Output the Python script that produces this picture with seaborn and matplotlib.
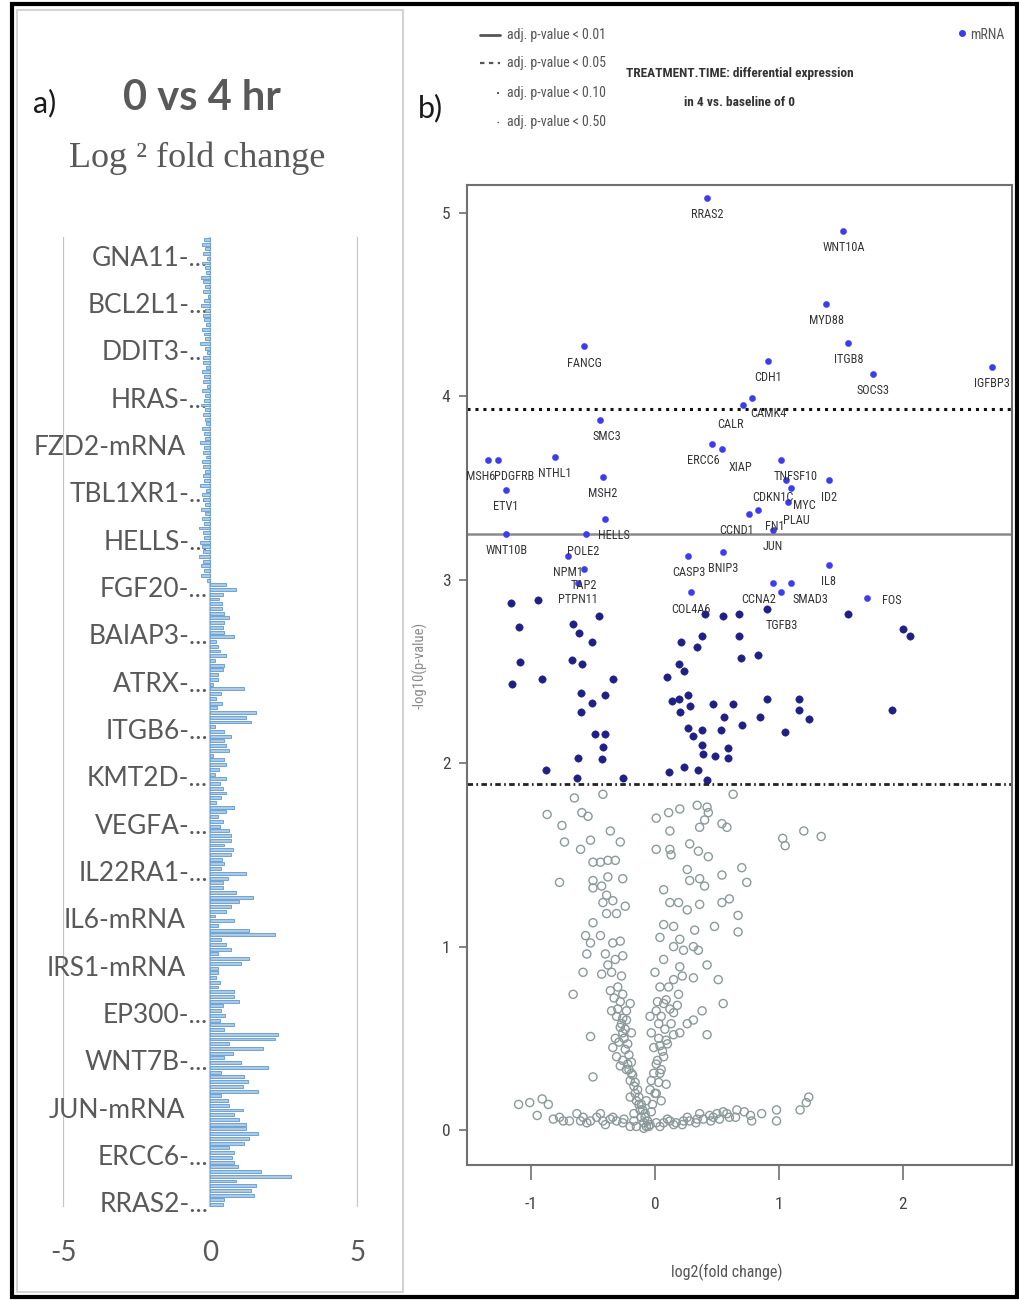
import numpy as np
import pandas as pd
import matplotlib
matplotlib.use("Agg")
import matplotlib.pyplot as plt
import seaborn as sns
from matplotlib import font_manager
from matplotlib.lines import Line2D
from matplotlib.patches import Rectangle

# ---------------- panel a: per-gene log2 fold change (0 vs 4 hr) ----------------
bar_labels = ["GNA11-...", "BCL2L1-...", "DDIT3-...", "HRAS-...", "FZD2-mRNA",
              "TBL1XR1-...", "HELLS-...", "FGF20-...", "BAIAP3-...", "ATRX-...",
              "ITGB6-...", "KMT2D-...", "VEGFA-...", "IL22RA1-...", "IL6-mRNA",
              "IRS1-mRNA", "EP300-...", "WNT7B-...", "JUN-mRNA", "ERCC6-...",
              "RRAS2-..."]
first_labelled_row = 4
label_every = 10

neg_fold = [-0.22, -0.30, -0.18, -0.25, -0.12, -0.28, -0.20, -0.15, -0.33, -0.24,
            -0.19, -0.27, -0.10, -0.22, -0.31, -0.17, -0.26, -0.21, -0.14, -0.29,
            -0.23, -0.18, -0.35, -0.20, -0.12, -0.27, -0.24, -0.16, -0.30, -0.21,
            -0.25, -0.13, -0.28, -0.19, -0.22, -0.32, -0.17, -0.26, -0.20, -0.15,
            -0.29, -0.23, -0.18, -0.34, -0.21, -0.26, -0.14, -0.30, -0.24, -0.19,
            -0.27, -0.22, -0.36, -0.16, -0.28, -0.25, -0.20, -0.33, -0.18, -0.29,
            -0.23, -0.38, -0.26, -0.21, -0.35, -0.30, -0.24, -0.40, -0.27, -0.33,
            -0.22, -0.31, -0.12]
pos_fold_upper = [0.53, 0.87, 0.42, 0.30, 0.38, 0.38, 0.47, 0.64, 0.45, 0.42,
                  0.47, 0.81, 0.19, 0.25, 0.33, 0.53, 0.16, 0.47, 0.42, 0.27,
                  0.25, 0.08, 1.15, 0.36, 0.19, 0.38, 0.22, 1.55, 1.21, 1.38,
                  0.14, 0.47, 0.70, 0.47, 0.53, 0.64, 0.08, 0.45, 0.53, 0.28,
                  0.14, 0.53, 0.31, 0.42, 0.53, 0.36, 0.20, 0.81, 0.53, 0.25,
                  0.42, 0.31, 0.64, 0.70, 0.70, 0.47, 0.76, 0.68, 0.40, 0.47,
                  0.36, 1.21, 0.59, 0.42, 0.42, 0.87, 1.43]
pos_fold_lower = [0.98, 0.70, 0.53, 0.14, 0.81, 0.27, 1.32, 2.17, 0.36, 0.53,
                  0.70, 0.25, 1.32, 1.04, 0.25, 0.25, 0.19, 0.31, 0.25, 0.81,
                  0.81, 0.98, 0.42, 0.36, 0.50, 0.31, 0.81, 0.47, 2.28, 2.17,
                  0.64, 1.77, 0.76, 0.47, 1.04, 1.94, 0.36, 1.15, 1.27, 1.10,
                  1.60, 0.36, 0.58, 0.64, 1.10, 0.81, 0.98, 1.21, 1.21, 1.60,
                  1.32, 1.15, 0.64, 0.81, 0.72, 0.81, 0.93, 1.72, 2.73, 0.87,
                  1.55, 1.38, 1.49, 0.45, 0.42]
fold_change = neg_fold + pos_fold_upper + pos_fold_lower

# ---------------- panel b: volcano plot ----------------
named_genes = ["RRAS2", "WNT10A", "MYD88", "ITGB8", "FANCG", "CDH1", "SOCS3", "IGFBP3",
               "CALR", "CAMK4", "SMC3", "ERCC6", "XIAP", "NTHL1", "MSH6", "PDGFRB",
               "ETV1", "MSH2", "HELLS", "WNT10B", "POLE2", "NPM1", "TAP2", "PTPN11",
               "TNFSF10", "CDKN1C", "MYC", "ID2", "PLAU", "CCND1", "FN1", "JUN",
               "CASP3", "BNIP3", "IL8", "CCNA2", "TGFB3", "SMAD3", "COL4A6", "FOS"]
named_lfc = [0.42, 1.52, 1.38, 1.56, -0.57, 0.91, 1.76, 2.72,
             0.71, 0.78, -0.44, 0.46, 0.54, -0.81, -1.35, -1.27,
             -1.20, -0.42, -0.40, -1.20, -0.56, -0.70, -0.57, -0.62,
             1.02, 1.06, 1.10, 1.40, 1.07, 0.76, 0.83, 0.95,
             0.27, 0.55, 1.40, 0.95, 1.02, 1.10, 0.29, 1.71]
named_logp = [5.08, 4.90, 4.50, 4.29, 4.27, 4.19, 4.12, 4.16,
              3.95, 3.99, 3.87, 3.74, 3.71, 3.67, 3.65, 3.65,
              3.49, 3.56, 3.33, 3.25, 3.25, 3.13, 3.06, 2.98,
              3.65, 3.54, 3.50, 3.54, 3.42, 3.36, 3.38, 3.27,
              3.13, 3.15, 3.08, 2.98, 2.93, 2.98, 2.93, 2.90]

sig_lfc = [-1.16, -0.94, -1.10, -1.09, -1.15, -0.91, -0.66, -0.61, -0.51, -0.45,
           -0.67, -0.59, -0.34, -0.60, -0.60, -0.51, -0.40, -0.48, -0.40, -0.42,
           -0.43, -0.62, -0.88, -0.63, -0.26, 0.10, 0.19, 0.23, 0.21, 0.14,
           0.19, 0.20, 0.27, 0.28, 0.27, 0.31, 0.38, 0.38, 0.39, 0.48,
           0.23, 0.35, 0.11, 0.42, 0.34, 0.38, 0.40, 0.55, 0.68, 0.68,
           0.69, 0.83, 0.47, 0.63, 0.56, 0.53, 0.70, 0.59, 0.59, 0.90,
           0.90, 0.85, 1.05, 1.16, 1.16, 1.24, 1.91, 2.00, 2.06, 1.56]
sig_logp = [2.87, 2.89, 2.74, 2.55, 2.43, 2.46, 2.76, 2.71, 2.66, 2.80,
            2.56, 2.54, 2.46, 2.38, 2.28, 2.33, 2.37, 2.16, 2.16, 2.09,
            2.02, 2.03, 1.96, 1.92, 1.92, 2.47, 2.54, 2.50, 2.66, 2.34,
            2.35, 2.28, 2.37, 2.31, 2.19, 2.15, 2.18, 2.10, 2.05, 2.04,
            1.98, 1.96, 1.95, 1.91, 2.63, 2.69, 2.81, 2.80, 2.81, 2.69,
            2.57, 2.59, 2.32, 2.32, 2.25, 2.18, 2.21, 2.08, 2.03, 2.84,
            2.35, 2.25, 2.17, 2.35, 2.29, 2.24, 2.29, 2.73, 2.69, 2.81]

ns_lfc = [-0.87, -0.75, -0.73, -0.65, -0.59, -0.54, -0.60, -0.52, -0.42, -0.36,
          -0.28, -0.50, -0.44, -0.38, -0.32, -0.77, -0.50, -0.50, -0.43, -0.39,
          -0.38, -0.26, -0.42, -0.34, -0.31, -0.24, -0.39, -0.50, -0.44, -0.56,
          -0.52, -0.55, -0.34, -0.28, -0.26, -0.40, -0.38, -0.58, -0.43, -0.35,
          -0.27, -0.66, -0.36, -0.26, -0.28, -0.20, -0.31, -0.26, -0.28, -0.23,
          -0.19, -0.52, -0.32, -0.31, -0.26, -0.23, -0.20, -0.17, -0.50, -0.15,
          -0.12, -0.09, -0.24, -0.22, -0.28, -0.19, -0.16, -0.20, -0.13, -0.17,
          -0.11, -0.32, -0.30, -0.35, -0.23, -0.26, -0.34,
          -0.30, -0.27, -0.25, -0.22, -0.21, -0.19, -0.18, -0.16, -0.14, -0.13,
          -0.11, -0.10, -0.08, -0.06, -0.24, -0.29, -0.33, -0.21,
          0.01, 0.11, 0.20, 0.12, 0.01, 0.12, 0.13, 0.28, 0.34, 0.42,
          0.43, 0.40, 0.36, 0.54, 0.58, 0.63, 0.35, 0.43, 0.26, 0.28,
          0.36, 0.40, 0.54, 0.70, 0.74, 0.07, 0.12, 0.19, 0.26, 0.36,
          0.54, 0.60, 0.67, 0.67, 0.48, 0.32, 0.15, 0.07, 0.04, 0.20,
          0.23, 0.35, 0.42, 0.07, 0.00, 0.15, 0.22, 0.31, 0.51, 0.55,
          0.38, 0.26, 0.15, 0.07, 0.01, -0.04, 0.03, 0.15, 0.42, -0.03,
          -0.01, 0.04, 0.07, 0.01, 0.09, -0.01, -0.04, -0.07, -0.08, 0.04,
          -0.03, 0.01, 0.05, 0.11, 0.19, 0.31, 0.20, 0.09, 0.04, 0.31,
          0.15, 0.20,
          0.02, 0.05, 0.08, 0.03, 0.06, 0.02, 0.05, 0.03, 0.00, -0.02,
          -0.03, 0.10, 0.12, 0.09, 0.13, 0.18,
          1.03, 1.20, 1.34, 1.05,
          -1.01, -0.91, -0.86, -0.82, -0.74, -0.69, -0.63, -0.58, -0.52, -0.47,
          -0.42, -0.36, -0.31, -0.26, -0.20, -0.15, -0.09, -0.04, 0.01, 0.07,
          0.12, 0.17, 0.23, 0.28, 0.34, 0.39, 0.44, 0.50, 0.55, 0.60,
          0.66, 0.77, 0.78, 0.98, 0.98, 1.17, 1.22, 1.24, -0.77, -0.60,
          -0.44, -0.34, -0.17, -0.07, 0.04, 0.15, 0.26, 0.36, 0.47, 0.58,
          -0.95, -0.55, -0.40, -0.25, -0.05, 0.10, 0.22, 0.33, 0.45, 0.52,
          0.65, 0.72, 0.86, -1.10]
ns_logp = [1.72, 1.66, 1.57, 1.81, 1.73, 1.71, 1.53, 1.58, 1.83, 1.63,
           1.57, 1.46, 1.46, 1.47, 1.47, 1.35, 1.36, 1.32, 1.33, 1.28,
           1.38, 1.37, 1.24, 1.25, 1.18, 1.22, 1.18, 1.13, 1.06, 1.06,
           1.02, 0.96, 1.02, 1.03, 0.95, 0.96, 0.90, 0.86, 0.85, 0.86,
           0.84, 0.74, 0.76, 0.74, 0.70, 0.69, 0.62, 0.61, 0.56, 0.60,
           0.53, 0.51, 0.50, 0.40, 0.38, 0.33, 0.27, 0.24, 0.29, 0.16,
           0.11, 0.04, 0.44, 0.36, 0.35, 0.31, 0.20, 0.18, 0.14, 0.09,
           0.07, 0.93, 0.78, 0.65, 0.65, 0.53, 0.45,
           0.66, 0.58, 0.50, 0.47, 0.41, 0.37, 0.30, 0.26, 0.22, 0.18,
           0.14, 0.11, 0.07, 0.05, 0.55, 0.48, 0.72, 0.33,
           1.70, 1.73, 1.75, 1.63, 1.53, 1.53, 1.50, 1.56, 1.77, 1.76,
           1.73, 1.69, 1.65, 1.67, 1.65, 1.83, 1.52, 1.49, 1.42, 1.36,
           1.37, 1.33, 1.39, 1.43, 1.35, 1.31, 1.24, 1.24, 1.20, 1.23,
           1.24, 1.26, 1.17, 1.08, 1.11, 1.09, 1.11, 1.12, 1.05, 1.04,
           0.98, 0.98, 0.90, 0.93, 0.86, 0.82, 0.84, 0.83, 0.82, 0.69,
           0.65, 0.58, 0.64, 0.69, 0.65, 0.62, 0.58, 0.52, 0.52, 0.53,
           0.45, 0.46, 0.40, 0.36, 0.25, 0.31, 0.22, 0.16, 0.09, 0.31,
           0.27, 0.20, 0.16, 0.78, 0.74, 0.60, 0.53, 0.49, 0.78, 1.00,
           1.00, 0.89,
           0.70, 0.62, 0.55, 0.50, 0.43, 0.38, 0.33, 0.26, 0.20, 0.14,
           0.10, 0.47, 0.66, 0.71, 0.58, 0.68,
           1.59, 1.63, 1.60, 1.55,
           0.15, 0.17, 0.14, 0.06, 0.05, 0.05, 0.09, 0.07, 0.05, 0.07,
           0.05, 0.06, 0.05, 0.04, 0.02, 0.02, 0.01, 0.03, 0.04, 0.04,
           0.05, 0.04, 0.05, 0.05, 0.06, 0.06, 0.08, 0.09, 0.10, 0.07,
           0.11, 0.08, 0.05, 0.11, 0.05, 0.11, 0.15, 0.18, 0.07, 0.05,
           0.09, 0.07, 0.05, 0.02, 0.02, 0.03, 0.07, 0.09, 0.07, 0.09,
           0.08, 0.04, 0.03, 0.06, 0.02, 0.06, 0.03, 0.04, 0.05, 0.06,
           0.07, 0.10, 0.09, 0.14]

cutoffs = [3.93, 3.25, 1.885]
legend_entries = ["adj. p-value < 0.01", "adj. p-value < 0.05",
                  "adj. p-value < 0.10", "adj. p-value < 0.50"]

# ---------------- fonts ----------------
available = {f.name for f in font_manager.fontManager.ttflist}


def pick(*names):
    for n in names:
        if n in available:
            return n
    return "DejaVu Sans"


NARROW = pick("Liberation Sans Narrow", "Roboto Condensed", "Liberation Sans")
OFFICE = pick("Lato", "Open Sans")
SERIF = pick("Liberation Serif", "DejaVu Serif")

sns.set_theme(style="white")
plt.rcParams["font.family"] = [OFFICE, "DejaVu Sans"]
plt.rcParams["axes.unicode_minus"] = False

W, H = 1020, 1300
fig = plt.figure(figsize=(W / 100, H / 100), dpi=100)


def fx(px):
    return px / W


def fy(py):
    return 1 - py / H


# ---------------- panel a ----------------
ax_a = fig.add_axes([fx(63), fy(1207), fx(358) - fx(63), fy(237) - fy(1207)])
rows = np.arange(len(fold_change))
df_a = pd.DataFrame({"row": rows, "lfc": fold_change})
sns.barplot(data=df_a, x="lfc", y="row", orient="y", native_scale=True,
            color="#a8c9ea", edgecolor="#5b9bd5", linewidth=0.6, width=0.62,
            errorbar=None, ax=ax_a, zorder=3)
ax_a.set_xlim(-5, 5)
ax_a.set_ylim(len(fold_change) - 0.5, -0.5)
ax_a.set_xticks([-5, 0, 5])
ax_a.set_xticklabels(["-5", "0", "5"])
ax_a.set_yticks([])
for s in ax_a.spines.values():
    s.set_visible(False)
ax_a.grid(axis="x", color="#c4c4c4", linewidth=1.6, zorder=0)
ax_a.grid(axis="y", visible=False)
ax_a.tick_params(axis="x", length=0, pad=24, labelsize=20, labelcolor="#595959")
ax_a.set_xlabel("")
ax_a.set_ylabel("")

# category labels sit against the zero line; truncated names run a little further right
tick_rows = [first_labelled_row + label_every * k for k in range(len(bar_labels))]
for r, lab in zip(tick_rows, bar_labels):
    right_edge = -0.08 if lab.endswith("...") else -0.85
    ax_a.text(right_edge, r, lab, ha="right", va="center", fontsize=19,
              color="#595959", zorder=2)

fig.text(fx(45), fy(103), "a)", fontsize=22, color="#1a1a1a", ha="center", va="center")
fig.text(fx(202), fy(98), "0 vs 4 hr", fontsize=30, fontweight="bold", color="#595959",
         ha="center", va="center")
fig.text(fx(197), fy(158), "Log \u00b2 fold change", fontsize=26, family=SERIF,
         color="#595959", ha="center", va="center")

# ---------------- panel b ----------------
ax_b = fig.add_axes([fx(467), fy(1165), fx(1012) - fx(467), fy(185) - fy(1165)])
ax_b.set_xlim(-1.516, 2.879)
ax_b.set_ylim(-0.19, 5.15)

sns.scatterplot(x=ns_lfc, y=ns_logp, ax=ax_b, marker="o", s=34, facecolor="none",
                edgecolor="#8c9a9a", linewidth=1.0, legend=False, zorder=2)
sns.scatterplot(x=sig_lfc, y=sig_logp, ax=ax_b, marker="o", s=28, color="#1f1f86",
                edgecolor="#1f1f86", linewidth=0.4, legend=False, zorder=3)
sns.scatterplot(x=named_lfc, y=named_logp, ax=ax_b, marker="o", s=20, color="#3b3bef",
                edgecolor="#3b3bef", linewidth=0.3, legend=False, zorder=4)

ax_b.axhline(cutoffs[0], color="#111111", linewidth=2.2, linestyle=(0, (1.0, 1.6)), zorder=1)
ax_b.axhline(cutoffs[1], color="#8a8a8a", linewidth=1.8, linestyle="-", zorder=1)
ax_b.axhline(cutoffs[2], color="#222222", linewidth=2.0, linestyle=(0, (2.0, 1.2, 0.6, 1.2)),
             zorder=1)

# offsets (points) that keep crowded gene names apart
label_shift = {"FOS": (18, -2), "SMC3": (5, -12), "TNFSF10": (10, -12),
               "MSH6": (-5, -12), "PDGFRB": (12, -12),
               "ERCC6": (-6, -12), "XIAP": (13, -13),
               "CALR": (-9, -14), "CAMK4": (12, -11),
               "CCND1": (-9, -12), "FN1": (12, -12),
               "CCNA2": (-10, -12), "TGFB3": (0, -24), "SMAD3": (14, -12),
               "CDKN1C": (-10, -12), "MYC": (9, -13), "PLAU": (6, -13),
               "HELLS": (6, -12), "POLE2": (-2, -13)}
for g, x, y in zip(named_genes, named_lfc, named_logp):
    dx, dy = label_shift.get(g, (0, -12))
    ax_b.annotate(g, (x, y), xytext=(dx, dy), textcoords="offset points",
                  ha="center", va="center", fontsize=8.8, family=NARROW,
                  color="#333333", zorder=5)

for s in ax_b.spines.values():
    s.set_color("#707070")
    s.set_linewidth(1.5)
ax_b.set_xticks([-1, 0, 1, 2])
ax_b.set_yticks([0, 1, 2, 3, 4, 5])
ax_b.tick_params(axis="x", direction="out", length=11, width=1.2, color="#707070",
                 pad=12, labelsize=12.5, labelcolor="#444444", bottom=True)
ax_b.tick_params(axis="y", direction="out", length=6, width=1.2, color="#707070",
                 pad=6, labelsize=12.5, labelcolor="#444444", left=True)
for lab in ax_b.get_xticklabels() + ax_b.get_yticklabels():
    lab.set_family(NARROW)
ax_b.grid(False)
ax_b.set_xlabel("")
ax_b.set_ylabel("")

fig.text(fx(727), fy(1272), "log2(fold change)", fontsize=11.5, family=NARROW,
         color="#555555", ha="center", va="center")
fig.text(fx(420), fy(665), "-log10(p-value)", fontsize=10.5, family=NARROW,
         color="#8a8a8a", ha="center", va="center", rotation=90)

fig.text(fx(430), fy(108), "b)", fontsize=22, color="#1a1a1a", ha="center", va="center")

# significance legend
legend_y = [35, 63, 93, 122]
styles = [dict(linestyle="-", linewidth=2.0, xs=(480, 500)),
          dict(linestyle=(0, (2, 2)), linewidth=1.6, xs=(480, 500)),
          dict(linestyle=(0, (1, 3)), linewidth=1.4, xs=(497, 500)),
          dict(linestyle=(0, (1, 4)), linewidth=1.0, xs=(497, 500))]
for yy, text, st in zip(legend_y, legend_entries, styles):
    x0, x1 = st["xs"]
    fig.add_artist(Line2D([fx(x0), fx(x1)], [fy(yy), fy(yy)], color="#555555",
                          linestyle=st["linestyle"], linewidth=st["linewidth"],
                          transform=fig.transFigure))
    fig.text(fx(507), fy(yy), text, fontsize=10, family=NARROW, color="#555555",
             ha="left", va="center")

fig.text(fx(740), fy(73), "TREATMENT.TIME: differential expression", fontsize=9.6,
         family=NARROW, fontweight="bold", color="#333333", ha="center", va="center")
fig.text(fx(740), fy(103), "in 4 vs. baseline of 0", fontsize=9.6, family=NARROW,
         fontweight="bold", color="#333333", ha="center", va="center")

fig.add_artist(Line2D([fx(962)], [fy(33)], marker="o", markersize=4, color="#3b3bef",
                      linestyle="none", transform=fig.transFigure))
fig.text(fx(970), fy(35), "mRNA", fontsize=10, family=NARROW, color="#555555",
         ha="left", va="center")

# panel frames and outer border
fig.add_artist(Rectangle((fx(17), fy(1292)), fx(403) - fx(17), fy(10) - fy(1292),
                         fill=False, edgecolor="#d4d4d4", linewidth=1.5,
                         transform=fig.transFigure))
fig.add_artist(Rectangle((fx(12), fy(1297)), fx(1017) - fx(12), fy(4) - fy(1297),
                         fill=False, edgecolor="#000000", linewidth=3,
                         transform=fig.transFigure))

fig.savefig("out.png", dpi=100)
